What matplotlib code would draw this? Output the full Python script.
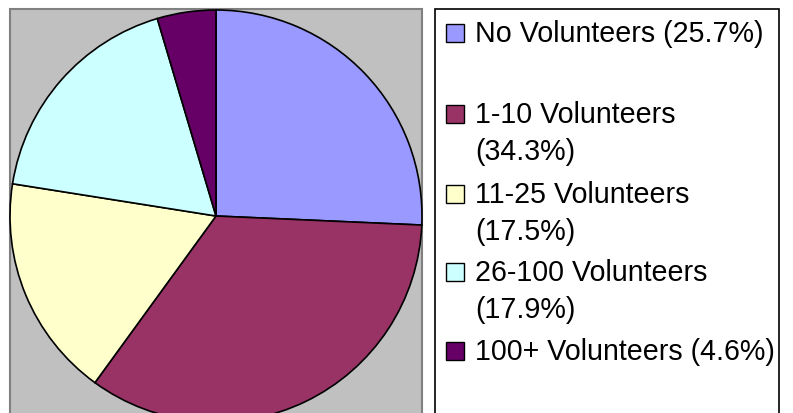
import matplotlib
matplotlib.use("Agg")
import matplotlib.pyplot as plt
from matplotlib.patches import Rectangle

categories = ["No Volunteers", "1-10 Volunteers", "11-25 Volunteers",
              "26-100 Volunteers", "100+ Volunteers"]
shares = [25.7, 34.3, 17.5, 17.9, 4.6]
colors = ["#9999FF", "#993366", "#FFFFCC", "#CCFFFF", "#660066"]
legend_lines = [["No Volunteers (25.7%)"],
                ["1-10 Volunteers", "(34.3%)"],
                ["11-25 Volunteers", "(17.5%)"],
                ["26-100 Volunteers", "(17.9%)"],
                ["100+ Volunteers (4.6%)"]]

W, H = 793, 414
fig = plt.figure(figsize=(W / 100, H / 100), dpi=100)
ax = fig.add_axes([0, 0, 1, 1])
ax.axis("off")

def Y(y):
    return H - y

# plot area
ax.add_patch(Rectangle((10, Y(440)), 412, 430, facecolor="#C0C0C0",
                       edgecolor="#808080", linewidth=1.5, zorder=0))

ax.pie(shares, colors=colors, startangle=90, counterclock=False,
       center=(216, Y(217)), radius=206,
       wedgeprops=dict(edgecolor="black", linewidth=1.2))
ax.set_xlim(0, W)
ax.set_ylim(0, H)
ax.set_aspect("equal")

# legend box
ax.add_patch(Rectangle((435, Y(440)), 344, 430, facecolor="white",
                       edgecolor="black", linewidth=1.2, zorder=1))

first_y = [34, 115, 195, 273, 352]
for col, lines, y0 in zip(colors, legend_lines, first_y):
    ax.add_patch(Rectangle((446, Y(y0 + 9)), 18, 18, facecolor=col,
                           edgecolor="black", linewidth=1.0, zorder=3))
    for i, t in enumerate(lines):
        ax.text(475, Y(y0 + i * 37), t, fontsize=20.6, family="Liberation Sans",
                va="center", ha="left", color="black", zorder=3)

fig.savefig("out.png", dpi=100)
